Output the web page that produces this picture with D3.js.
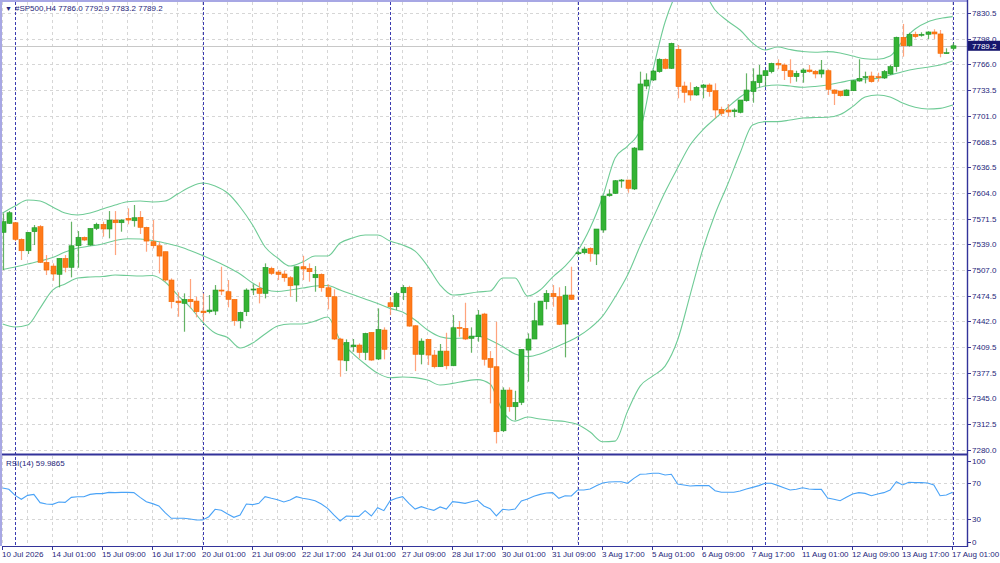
<!DOCTYPE html>
<html>
<head>
<meta charset="utf-8">
<script src="https://cdn.jsdelivr.net/npm/d3@7"></script>
<style>
  body { margin: 0; background: #fff; }
  text { font-family: "Liberation Sans", Arial, sans-serif; font-size: 8px; fill: #26267a; }
</style>
</head>
<body>
<svg id="chart" width="1000" height="563"></svg>
<script>
// H4 bars, 10 Jul 2026 17:00 .. 17 Aug 2026 01:00
const barOpen = [7554.2,7565.5,7566.3,7545.4,7531.0,7555.0,7561.3,7516.4,7511.7,7501.3,
  7521.4,7510.1,7537.3,7547.9,7538.2,7559.2,7564.3,7558.4,7569.7,7566.3,
  7571.8,7568.8,7573.1,7560.5,7542.4,7537.3,7529.8,7494.1,7467.6,7464.7,
  7469.8,7467.6,7455.0,7454.2,7455.0,7481.5,7479.4,7469.8,7442.8,7454.2,
  7481.5,7483.6,7477.3,7508.8,7504.2,7501.7,7497.0,7487.8,7510.9,7508.8,
  7497.0,7501.3,7484.4,7473.1,7419.8,7392.4,7410.1,7412.2,7403.0,7428.2,
  7394.6,7431.1,7465.5,7460.5,7478.1,7484.9,7436.5,7400.5,7419.4,7399.6,
  7384.9,7404.6,7386.1,7434.5,7433.2,7420.6,7422.7,7451.3,7395.4,7384.9,
  7304.2,7355.5,7334.5,7340.0,7405.9,7419.8,7437.4,7466.8,7477.3,7473.1,
  7438.7,7475.2,7527.7,7528.5,7534.0,7526.9,7557.1,7600.3,7603.3,7618.8,
  7620.1,7608.8,7657.9,7738.5,7746.1,7756.6,7772.2,7760.8,7784.8,7738.5,
  7732.6,7727.2,7736.9,7739.8,7732.6,7709.2,7708.3,7706.2,7705.4,7720.0,
  7731.4,7742.7,7751.5,7756.6,7767.1,7765.0,7757.8,7750.3,7755.3,7758.7,
  7757.1,7753.7,7757.8,7733.5,7732.2,7726.3,7732.6,7744.8,7749.0,7751.1,
  7750.3,7748.6,7753.7,7762.9,7799.9,7789.3,7803.7,7802.4,7803.7,7806.6,
  7804.1,7780.1,7786.0];
const barHigh = [7578.1,7581.0,7567.2,7546.6,7554.6,7563.4,7563.4,7525.6,7515.1,7521.4,
  7525.6,7567.6,7555.8,7548.9,7559.2,7566.3,7567.6,7581.0,7581.0,7570.6,
  7584.4,7588.6,7581.0,7561.3,7569.7,7542.4,7529.8,7496.2,7478.6,7477.3,
  7495.4,7473.1,7477.3,7475.2,7487.8,7510.9,7494.1,7469.8,7454.2,7483.6,
  7488.7,7491.2,7515.1,7510.9,7506.7,7505.8,7499.1,7510.9,7524.7,7515.1,
  7511.7,7502.5,7488.7,7482.4,7421.4,7419.4,7419.8,7414.3,7427.7,7428.2,
  7458.4,7434.5,7473.1,7479.4,7487.8,7486.9,7437.4,7420.6,7419.8,7405.9,
  7413.5,7427.7,7450.0,7442.4,7465.5,7434.5,7456.3,7452.8,7404.6,7441.6,
  7358.9,7358.9,7354.6,7406.8,7426.9,7465.5,7467.6,7481.5,7487.8,7484.9,
  7486.5,7510.9,7530.6,7536.1,7535.3,7558.4,7599.9,7608.4,7620.1,7621.4,
  7620.1,7661.7,7756.6,7754.5,7758.7,7773.4,7773.4,7793.1,7790.2,7744.0,
  7743.2,7738.5,7741.1,7741.9,7741.9,7712.5,7715.9,7710.4,7720.9,7754.5,
  7760.8,7765.0,7758.7,7767.9,7772.2,7767.1,7772.2,7757.8,7760.8,7765.0,
  7758.7,7771.3,7759.6,7734.4,7732.2,7734.4,7746.1,7772.2,7756.6,7756.6,
  7755.3,7758.7,7765.0,7800.7,7816.7,7805.7,7807.0,7806.2,7807.5,7810.0,
  7809.1,7786.0,7792.9];
const barLow = [7506.7,7564.7,7543.2,7519.3,7526.9,7538.2,7515.5,7500.4,7493.2,7484.9,
  7503.8,7497.5,7509.6,7543.2,7537.3,7557.1,7548.7,7546.6,7525.6,7555.0,
  7564.3,7561.3,7552.1,7529.8,7534.0,7502.5,7492.0,7458.4,7447.9,7429.0,
  7458.4,7447.1,7441.6,7452.1,7450.0,7475.2,7459.7,7436.5,7433.2,7448.7,
  7475.2,7464.7,7471.0,7500.4,7494.1,7492.0,7473.1,7466.8,7494.1,7492.0,
  7479.4,7479.4,7457.2,7418.5,7372.3,7379.4,7403.8,7395.4,7393.3,7392.4,
  7393.3,7394.2,7450.0,7456.3,7468.9,7435.3,7379.4,7387.9,7387.0,7382.8,
  7384.9,7381.6,7385.7,7422.7,7418.5,7402.5,7416.4,7386.4,7338.7,7288.3,
  7302.6,7328.2,7317.7,7336.6,7366.0,7419.8,7437.4,7457.2,7460.5,7437.4,
  7396.7,7469.0,7525.6,7526.5,7517.2,7513.0,7553.7,7599.1,7602.5,7610.4,
  7604.1,7607.5,7657.9,7734.4,7744.8,7755.3,7759.6,7760.0,7723.0,7717.5,
  7720.0,7726.3,7723.0,7725.1,7697.8,7700.7,7699.9,7699.1,7704.1,7718.8,
  7717.5,7736.9,7737.7,7754.5,7759.6,7746.1,7741.9,7744.0,7742.7,7755.3,
  7748.2,7749.0,7727.2,7714.6,7725.1,7725.9,7732.2,7744.0,7741.9,7742.7,
  7744.0,7747.4,7752.4,7756.6,7775.5,7788.1,7798.6,7800.7,7797.8,7797.8,
  7774.7,7778.9,7783.2];
const barClose = [7567.6,7578.9,7545.4,7531.0,7554.2,7560.0,7516.4,7506.7,7501.7,7521.4,
  7510.1,7537.3,7547.9,7544.5,7559.2,7564.3,7558.4,7569.7,7566.3,7569.7,
  7569.7,7572.6,7560.5,7543.2,7537.3,7524.3,7494.1,7466.8,7465.5,7469.8,
  7466.8,7454.2,7452.9,7456.3,7481.5,7480.2,7469.8,7442.8,7453.4,7481.5,
  7482.8,7477.3,7510.1,7502.5,7501.3,7497.0,7486.9,7510.9,7508.0,7504.6,
  7501.3,7484.4,7473.1,7419.8,7393.3,7415.6,7412.2,7403.0,7426.9,7393.3,
  7432.0,7406.8,7460.5,7477.3,7484.9,7436.1,7400.5,7417.2,7399.6,7384.9,
  7404.6,7386.1,7434.0,7433.2,7419.8,7423.5,7450.0,7394.3,7384.1,7303.0,
  7355.5,7334.5,7340.0,7406.8,7419.8,7442.8,7467.6,7477.3,7473.1,7438.3,
  7475.2,7469.8,7528.5,7533.2,7527.7,7558.4,7599.9,7602.5,7619.2,7620.1,
  7609.6,7660.4,7741.1,7746.1,7757.4,7772.2,7760.8,7792.3,7737.7,7730.6,
  7727.2,7736.9,7739.8,7731.4,7708.3,7704.1,7705.8,7708.3,7720.9,7733.5,
  7744.0,7752.4,7757.8,7767.1,7765.0,7757.8,7750.3,7754.5,7758.7,7756.6,
  7753.7,7758.7,7734.4,7729.3,7726.3,7733.5,7745.2,7748.2,7750.3,7744.0,
  7749.0,7756.8,7762.9,7799.9,7789.3,7803.7,7800.7,7803.7,7806.6,7804.1,
  7779.7,7780.5,7789.2];

// Bollinger bands, one value every 2 bars
const bbUpper = [7578.5,7587.3,7594.9,7593.6,7586.1,7578.5,7576.0,7578.5,7583.6,7588.6,
  7592.8,7593.6,7592.4,7593.6,7602.5,7611.3,7616.3,7612.5,7603.7,7586.1,
  7563.4,7535.7,7521.8,7511.7,7516.8,7524.3,7524.3,7540.7,7547.0,7550.8,
  7550.8,7543.2,7538.2,7530.6,7511.7,7487.8,7475.2,7476.5,7479.0,7480.2,
  7496.6,7496.6,7473.9,7481.5,7497.9,7511.7,7530.6,7559.6,7598.7,7647.8,
  7662.9,7683.1,7756.2,7819.2,7857.0,7869.6,7859.5,7834.3,7820.4,7809.1,
  7792.7,7783.9,7787.7,7784.5,7782.0,7781.0,7781.8,7780.1,7776.3,7772.9,
  7772.2,7776.3,7795.2,7810.4,7819.2,7823.6,7825.9];
const bbMid = [7507.3,7510.5,7514.3,7518.0,7522.4,7529.4,7534.4,7536.9,7539.5,7543.9,
  7546.1,7545.8,7543.9,7540.7,7536.9,7531.3,7525.0,7518.0,7510.5,7501.7,
  7490.3,7482.1,7479.6,7481.5,7484.0,7486.5,7487.2,7481.5,7475.8,7470.2,
  7464.5,7458.4,7453.8,7443.7,7431.1,7422.7,7420.4,7421.0,7423.5,7418.5,
  7410.3,7400.9,7397.7,7400.9,7407.8,7414.7,7422.7,7433.6,7448.7,7472.7,
  7500.4,7536.9,7571.0,7605.0,7635.2,7664.2,7683.1,7697.6,7711.4,7724.7,
  7734.1,7738.5,7739.8,7738.5,7736.9,7737.9,7739.8,7742.9,7746.1,7747.4,
  7748.2,7752.4,7756.6,7760.0,7762.2,7765.0,7770.0];
const bbLower = [7438.7,7434.9,7437.4,7458.8,7481.5,7489.1,7496.6,7497.9,7498.5,7500.4,
  7499.8,7499.1,7499.8,7491.6,7475.2,7460.1,7441.2,7427.3,7421.6,7408.4,
  7414.7,7426.1,7436.1,7438.7,7438.7,7442.4,7447.5,7418.5,7401.7,7388.3,
  7376.9,7371.0,7371.9,7371.2,7368.1,7361.8,7363.9,7366.8,7368.7,7363.1,
  7329.0,7316.4,7321.5,7319.0,7317.1,7315.8,7312.0,7302.6,7290.4,7291.2,
  7329.0,7360.5,7373.1,7385.7,7418.5,7475.2,7531.9,7577.3,7614.4,7654.1,
  7689.4,7693.6,7693.6,7695.7,7698.2,7698.8,7699.1,7702.6,7712.5,7724.7,
  7727.2,7724.7,7717.1,7711.7,7709.6,7710.4,7714.6];

// RSI(14), one value per bar
const rsiValues = [64.8,63.3,56.6,52.2,56.6,57.7,48.5,47.0,46.6,49.2,
  48.8,54.4,55.1,55.1,57.7,58.5,58.5,59.9,59.6,59.9,
  59.9,59.6,54.4,49.6,47.4,44.8,37.4,31.1,31.1,31.1,
  30.3,29.2,29.2,32.9,41.1,40.0,35.9,32.2,34.8,47.0,
  46.3,47.7,55.1,53.3,51.8,49.2,51.4,55.1,53.3,52.2,
  50.7,47.0,42.2,34.8,28.1,33.7,33.3,33.3,39.6,33.7,
  42.9,39.6,50.7,53.3,55.1,47.7,41.4,44.0,41.8,40.0,
  43.7,41.4,49.6,48.8,47.7,49.6,51.1,44.8,41.8,33.7,
  41.1,40.3,41.4,50.3,52.5,55.5,57.7,59.2,59.6,53.3,
  56.2,55.9,62.5,62.5,63.7,67.4,70.3,71.4,71.8,71.8,
  70.0,75.5,80.0,80.3,81.1,81.1,79.2,80.0,69.2,68.1,
  67.0,67.4,67.4,67.4,61.8,60.0,60.0,60.0,61.4,63.7,
  65.5,67.4,70.0,70.0,67.7,65.1,62.5,63.3,65.1,63.7,
  63.3,63.3,53.7,52.2,50.7,54.4,58.1,59.6,58.8,56.2,
  58.1,59.6,62.5,71.8,68.1,71.1,70.7,70.7,70.3,68.1,
  56.2,57.0,59.9865];

const priceTicks = [7830.5,7798.0,7766.0,7733.5,7701.0,7668.5,7636.5,7604.0,7571.5,
  7539.0,7507.0,7474.5,7442.0,7409.5,7377.5,7345.0,7312.5,7280.0];
const rsiTicks = [100, 70, 30, 0];
const rsiLevels = [70, 30];
const timeLabels = ["10 Jul 2026","14 Jul 01:00","15 Jul 09:00","16 Jul 17:00","20 Jul 01:00",
  "21 Jul 09:00","22 Jul 17:00","24 Jul 01:00","27 Jul 09:00","28 Jul 17:00","30 Jul 01:00",
  "31 Jul 09:00","3 Aug 17:00","5 Aug 01:00","6 Aug 09:00","7 Aug 17:00","11 Aug 01:00",
  "12 Aug 09:00","13 Aug 17:00","17 Aug 01:00"];
const weekStartBars = [2, 32, 62, 92, 122, 152];

const symbol = "#SP500,H4";
const nBars = barClose.length;
const last = nBars - 1;

const svg = d3.select("#chart");
const left = 2, right = 967;
const mainTop = 2, mainBottom = 452;
const rsiTop = 456, rsiBottom = 546;

const x = d3.scaleLinear().domain([0, last]).range([2.6, 952.6]);
const y = d3.scaleLinear().domain([7280, 7830.5]).range([450, 13]);
const yR = d3.scaleLinear().domain([0, 100]).range([546.3, 456.3]);

const defs = svg.append("defs");
defs.append("clipPath").attr("id", "clipMain").append("rect")
  .attr("x", left).attr("y", mainTop).attr("width", right - left).attr("height", mainBottom - mainTop);
defs.append("clipPath").attr("id", "clipRsi").append("rect")
  .attr("x", left).attr("y", rsiTop).attr("width", right - left).attr("height", rsiBottom - rsiTop);

// grid
const grid = svg.append("g").attr("stroke", "#d6d6d6").attr("stroke-dasharray", "3,3").attr("stroke-width", 1);
const gridBars = d3.range(0, nBars, 4);
grid.selectAll("line.vm").data(gridBars).enter().append("line")
  .attr("x1", d => Math.round(x(d)) - 0.5).attr("x2", d => Math.round(x(d)) - 0.5)
  .attr("y1", mainTop).attr("y2", mainBottom);
grid.selectAll("line.vr").data(gridBars).enter().append("line")
  .attr("x1", d => Math.round(x(d)) - 0.5).attr("x2", d => Math.round(x(d)) - 0.5)
  .attr("y1", rsiTop).attr("y2", rsiBottom);
grid.selectAll("line.h").data(priceTicks).enter().append("line")
  .attr("x1", left).attr("x2", right)
  .attr("y1", d => Math.round(y(d)) + 0.5).attr("y2", d => Math.round(y(d)) + 0.5);
grid.selectAll("line.hr").data(rsiLevels).enter().append("line")
  .attr("x1", left).attr("x2", right)
  .attr("y1", d => Math.round(yR(d)) + 0.5).attr("y2", d => Math.round(yR(d)) + 0.5);

// current price line
svg.append("line").attr("x1", left).attr("x2", right)
  .attr("y1", Math.round(y(barClose[last])) + 0.5).attr("y2", Math.round(y(barClose[last])) + 0.5)
  .attr("stroke", "#c8c8c8");

// week separators
svg.append("g").selectAll("line").data(weekStartBars).enter().append("line")
  .attr("x1", d => Math.round(x(d)) + 0.5).attr("x2", d => Math.round(x(d)) + 0.5)
  .attr("y1", mainTop).attr("y2", rsiBottom)
  .attr("stroke", "#3b3bb0").attr("stroke-dasharray", "3,2");

const main = svg.append("g").attr("clip-path", "url(#clipMain)");

// bollinger bands
const bandIdx = d3.range(0, nBars, 2);
const bandLine = d3.line().x((d, i) => x(bandIdx[i])).y(d => y(d)).curve(d3.curveMonotoneX);
[bbUpper, bbMid, bbLower].forEach(band => {
  main.append("path").datum(band).attr("d", bandLine)
    .attr("fill", "none").attr("stroke", "#6fcb96").attr("stroke-width", 1.1);
});

// candles
const bars = d3.range(nBars);
const isUp = i => barClose[i] >= barOpen[i];
main.append("g").selectAll("line").data(bars).enter().append("line")
  .attr("x1", i => Math.round(x(i)) + 0.5).attr("x2", i => Math.round(x(i)) + 0.5)
  .attr("y1", i => y(barHigh[i])).attr("y2", i => y(barLow[i]))
  .attr("stroke", i => isUp(i) ? "#4aa64a" : "#ff9466").attr("stroke-width", 1.2)
  .attr("stroke-opacity", 0.85);
main.append("g").selectAll("rect").data(bars).enter().append("rect")
  .attr("x", i => Math.round(x(i)) - 2)
  .attr("y", i => y(Math.max(barOpen[i], barClose[i])))
  .attr("width", 5)
  .attr("height", i => Math.max(1, Math.abs(y(barOpen[i]) - y(barClose[i]))))
  .attr("fill", i => isUp(i) ? "#34b334" : "#ff7a1a")
  .attr("stroke", i => isUp(i) ? "#23982a" : "#f26a05").attr("stroke-width", 0.6);

// rsi
const rsiG = svg.append("g").attr("clip-path", "url(#clipRsi)");
rsiG.append("path").datum(rsiValues)
  .attr("d", d3.line().x((d, i) => x(i)).y(d => yR(d)))
  .attr("fill", "none").attr("stroke", "#4aa3f7").attr("stroke-width", 1.1);

// frame
svg.append("line").attr("x1", 1).attr("x2", 1).attr("y1", 0).attr("y2", rsiBottom)
  .attr("stroke", "#a7a7e4").attr("stroke-width", 2);
svg.append("line").attr("x1", 0).attr("x2", right).attr("y1", 1).attr("y2", 1)
  .attr("stroke", "#a7a7e4").attr("stroke-width", 2);
svg.append("line").attr("x1", left).attr("x2", right).attr("y1", 454.5).attr("y2", 454.5)
  .attr("stroke", "#33339a").attr("stroke-width", 2);
svg.append("line").attr("x1", left).attr("x2", right + 1).attr("y1", rsiBottom + 0.5).attr("y2", rsiBottom + 0.5)
  .attr("stroke", "#33339a").attr("stroke-width", 1.2);
svg.append("line").attr("x1", right + 0.5).attr("x2", right + 0.5).attr("y1", 0).attr("y2", rsiBottom + 1)
  .attr("stroke", "#33339a").attr("stroke-width", 1.4);

// price axis
const pAxis = svg.append("g");
pAxis.selectAll("line").data(priceTicks).enter().append("line")
  .attr("x1", right).attr("x2", right + 4)
  .attr("y1", d => Math.round(y(d)) + 0.5).attr("y2", d => Math.round(y(d)) + 0.5)
  .attr("stroke", "#33339a");
pAxis.selectAll("text").data(priceTicks).enter().append("text")
  .attr("x", right + 5).attr("y", d => y(d) + 3)
  .text(d => d.toFixed(1));

// current price tag
const tagY = y(barClose[last]);
svg.append("rect").attr("x", right + 1).attr("y", tagY - 5).attr("width", 32).attr("height", 10)
  .attr("fill", "#17176e");
svg.append("text").attr("x", right + 5).attr("y", tagY + 3).style("fill", "#fff")
  .text(barClose[last].toFixed(1));

// rsi axis
const rAxis = svg.append("g");
const rLabelY = v => Math.min(rsiBottom - 4, Math.max(rsiTop + 5, yR(v)));
rAxis.selectAll("line").data(rsiTicks).enter().append("line")
  .attr("x1", right).attr("x2", right + 4)
  .attr("y1", d => Math.round(rLabelY(d)) + 0.5).attr("y2", d => Math.round(rLabelY(d)) + 0.5)
  .attr("stroke", "#33339a");
rAxis.selectAll("text").data(rsiTicks).enter().append("text")
  .attr("x", right + 5).attr("y", d => rLabelY(d) + 3)
  .text(d => d);

// time axis
const labelBars = d3.range(0, nBars, 8);
const tAxis = svg.append("g");
tAxis.selectAll("line").data(labelBars).enter().append("line")
  .attr("x1", d => Math.round(x(d)) - 0.5).attr("x2", d => Math.round(x(d)) - 0.5)
  .attr("y1", rsiBottom).attr("y2", rsiBottom + 4)
  .attr("stroke", "#33339a");
tAxis.selectAll("text").data(labelBars).enter().append("text")
  .attr("x", d => Math.round(x(d)) - 1).attr("y", 557)
  .text((d, i) => timeLabels[i]);

// titles
svg.append("text").attr("x", 5).attr("y", 11).style("font-size", "7px").text("\u25BC");
svg.append("text").attr("x", 15).attr("y", 11)
  .text(symbol + "  " + [barOpen[last], barHigh[last], barLow[last], barClose[last]].map(v => v.toFixed(1)).join(" "));
svg.append("text").attr("x", 6).attr("y", 466)
  .text("RSI(14) " + rsiValues[last].toFixed(4));
</script>
</body>
</html>
